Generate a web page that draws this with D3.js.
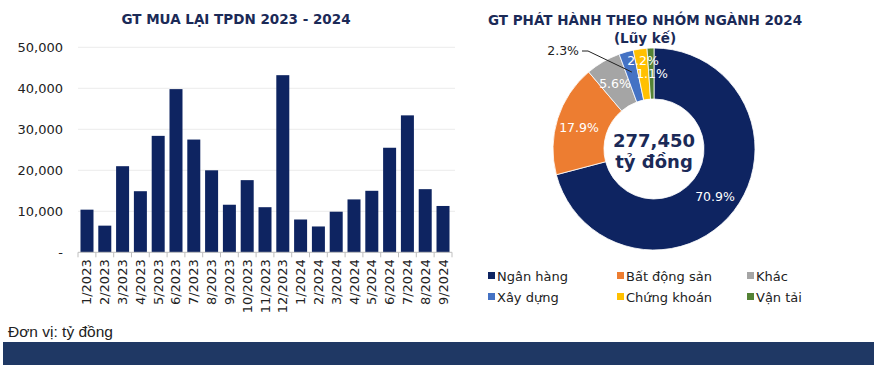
<!DOCTYPE html>
<html><head><meta charset="utf-8">
<script src="https://cdn.jsdelivr.net/npm/d3@7"></script>
<style>body{margin:0;background:#fff}svg{display:block}</style>
</head><body>
<svg id="c" width="874" height="368"></svg>
<script>
const months = ["1/2023","2/2023","3/2023","4/2023","5/2023","6/2023","7/2023","8/2023","9/2023","10/2023","11/2023","12/2023","1/2024","2/2024","3/2024","4/2024","5/2024","6/2024","7/2024","8/2024","9/2024"];
const buyback = [10400,6500,21000,14900,28400,39800,27500,20000,11600,17600,11000,43200,8000,6300,9900,12900,15000,25500,33400,15400,11300];
const yTicks = [0,10000,20000,30000,40000,50000];
const sectors = ["Ngân hàng","Bất động sản","Khác","Xây dựng","Chứng khoán","Vận tải"];
const shares = [70.9,17.9,5.6,2.3,2.2,1.1];
const sectorColors = ["#0e2461","#ed7d31","#a5a5a5","#4472c4","#ffc000","#548235"];
const total = "277,450";

const svg = d3.select("#c");
const font = "DejaVu Sans, Verdana, sans-serif";
const navy = "#1b2a57";

// ---- Bar chart ----
const x = d3.scaleBand().domain(months).range([78,452]).paddingInner(0.27).paddingOuter(0.14);
const y = d3.scaleLinear().domain([0,50000]).range([252.3,47.3]);

svg.append("text").attr("x",236).attr("y",24).attr("text-anchor","middle")
  .attr("font-family",font).attr("font-weight","bold").attr("font-size",13.5).attr("fill",navy)
  .text("GT MUA LẠI TPDN 2023 - 2024");

svg.append("g").selectAll("line").data(yTicks.slice(1)).join("line")
  .attr("x1",78).attr("x2",455).attr("y1",d=>y(d)).attr("y2",d=>y(d))
  .attr("stroke","#ececec").attr("stroke-width",1);

const ya = svg.append("g").attr("transform","translate(66,0)")
  .call(d3.axisLeft(y).tickValues(yTicks).tickSize(0).tickPadding(3)
    .tickFormat(d=>d===0?"-":d3.format(",")(d)));
ya.select(".domain").remove();
ya.selectAll("text").attr("font-family",font).attr("font-size",13).attr("fill","#222");

svg.append("g").selectAll("rect").data(buyback).join("rect")
  .attr("x",(d,i)=>x(months[i])).attr("width",x.bandwidth())
  .attr("y",d=>y(d)).attr("height",d=>y(0)-y(d)).attr("fill","#0e2461");

// x axis
svg.append("line").attr("x1",78).attr("x2",452).attr("y1",y(0)).attr("y2",y(0)).attr("stroke","#bfbfbf");
const step = x.step();
const bounds = d3.range(months.length+1).map(i=>78+ (i===0?0:(i===months.length?374: x(months[i])-78-step*x.paddingInner()/2)));
svg.append("g").selectAll("line").data(bounds).join("line")
  .attr("x1",d=>d).attr("x2",d=>d).attr("y1",y(0)).attr("y2",y(0)+5).attr("stroke","#bfbfbf");
svg.append("g").selectAll("text").data(months).join("text")
  .attr("transform",d=>`translate(${x(d)+x.bandwidth()/2+4.5},${y(0)+7}) rotate(-90)`)
  .attr("text-anchor","end").attr("font-family",font).attr("font-size",13).attr("fill","#222")
  .text(d=>d);

svg.append("text").attr("x",8).attr("y",337).attr("font-family","Liberation Sans, Arial, sans-serif")
  .attr("font-size",15.5).attr("fill","#222").text("Đơn vị: tỷ đồng");
svg.append("rect").attr("x",3).attr("y",342).attr("width",871).attr("height",23).attr("fill","#1f3864");

// ---- Donut ----
const cx = 654, cy = 149, rO = 101, rI = 50;
svg.append("text").attr("x",645).attr("y",25).attr("text-anchor","middle")
  .attr("font-family",font).attr("font-weight","bold").attr("font-size",13.5).attr("fill",navy)
  .text("GT PHÁT HÀNH THEO NHÓM NGÀNH 2024");
svg.append("text").attr("x",645).attr("y",43).attr("text-anchor","middle")
  .attr("font-family",font).attr("font-weight","bold").attr("font-size",13.5).attr("fill",navy)
  .text("(Lũy kế)");

const pie = d3.pie().sort(null).value(d=>d)(shares);
const arc = d3.arc().innerRadius(rI).outerRadius(rO);
const g = svg.append("g").attr("transform",`translate(${cx},${cy})`);
g.selectAll("path").data(pie).join("path").attr("d",arc)
  .attr("fill",(d,i)=>sectorColors[i]).attr("stroke","#fff").attr("stroke-width",0.8);

const labelPos = [[61,48],[-75,-21],[-39,-65],null,[-11,-88],[-2,-75]];
pie.forEach((d,i)=>{
  if(!labelPos[i]) return;
  g.append("text").attr("x",labelPos[i][0]).attr("y",labelPos[i][1]).attr("dy","0.35em")
    .attr("text-anchor","middle").attr("font-family",font).attr("font-size",12.5)
    .attr("fill","#fff").text(d3.format(".1f")(d.data)+"%");
});
// callout for 2.3%
const d3p = pie[3];
const mid = (d3p.startAngle+d3p.endAngle)/2;
const pr = 80;
const px = Math.sin(mid)*pr, py = -Math.cos(mid)*pr;
g.append("polyline").attr("points",`${-72},${-98} ${-66},${-98} ${px},${py}`)
  .attr("fill","none").attr("stroke","#222").attr("stroke-width",1);
g.append("text").attr("x",-75).attr("y",-98).attr("dy","0.35em").attr("text-anchor","end")
  .attr("font-family",font).attr("font-size",12.5).attr("fill","#222")
  .text(d3.format(".1f")(shares[3])+"%");

g.append("text").attr("x",0).attr("y",-2).attr("text-anchor","middle")
  .attr("font-family",font).attr("font-weight","bold").attr("font-size",18).attr("fill",navy).text(total);
g.append("text").attr("x",0).attr("y",19).attr("text-anchor","middle")
  .attr("font-family",font).attr("font-weight","bold").attr("font-size",18).attr("fill",navy).text("tỷ đồng");

// legend
const lx = [488,617,747], ly = [276,297];
sectors.forEach((s,i)=>{
  const col = i%3, row = Math.floor(i/3);
  svg.append("rect").attr("x",lx[col]).attr("y",ly[row]-4).attr("width",7).attr("height",7).attr("fill",sectorColors[i]);
  svg.append("text").attr("x",lx[col]+9).attr("y",ly[row]).attr("dy","0.35em")
    .attr("font-family",font).attr("font-size",13).attr("fill","#222").text(s);
});
</script>
</body></html>
